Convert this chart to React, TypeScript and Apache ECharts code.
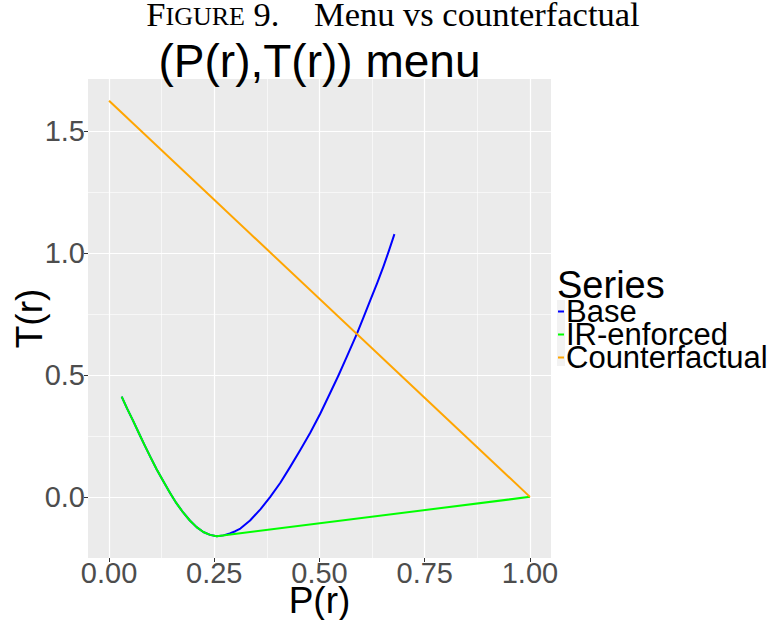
import React, { useEffect, useRef } from "react";
import * as echarts from "echarts";

const xMajor = [0, 0.25, 0.5, 0.75, 1.0];
const xMinor = [0.125, 0.375, 0.625, 0.875];
const yMajor = [0, 0.5, 1.0, 1.5];
const yMinor = [-0.25, 0.25, 0.75, 1.25];

const seriesNames = ["Base", "IR-enforced", "Counterfactual"];
const seriesColors = ["#0000FF", "#00FF00", "#FFA500"];

// shared descending branch (P, T)
const leftP = [0.030, 0.043, 0.057, 0.071, 0.085, 0.099, 0.113, 0.129, 0.145, 0.160, 0.176, 0.192, 0.208, 0.224, 0.240, 0.256];
const leftT = [0.411, 0.362, 0.313, 0.261, 0.210, 0.161, 0.113, 0.064, 0.016, -0.026, -0.064, -0.097, -0.124, -0.144, -0.156, -0.1615];

// Base rising branch
const baseP = [0.272, 0.287, 0.300, 0.312, 0.335, 0.360, 0.383, 0.407, 0.430, 0.454, 0.478, 0.502, 0.525, 0.545, 0.565, 0.589, 0.605, 0.621, 0.637, 0.652, 0.665, 0.678];
const baseT = [-0.158, -0.150, -0.141, -0.130, -0.097, -0.050, 0.000, 0.058, 0.122, 0.191, 0.263, 0.342, 0.425, 0.498, 0.575, 0.670, 0.738, 0.808, 0.877, 0.946, 1.010, 1.078];

// IR-enforced straight branch end
const irP = [1.0];
const irT = [0.0];

// Counterfactual line
const cfP = [0.0, 1.0];
const cfT = [1.625, 0.0];

const zip = (a: number[], b: number[]) => a.map((v, i) => [v, b[i]]);

const SANS = "'Liberation Sans', Arial, Helvetica, sans-serif";
const SERIF = "'Liberation Serif', 'Times New Roman', serif";

export default function App() {
  const ref = useRef<HTMLDivElement>(null);
  useEffect(() => {
    if (!ref.current) return;
    const chart = echarts.init(ref.current, undefined, { renderer: "svg" });
    const xMin = -0.05, xMax = 1.05;
    const yMin = -0.2508, yMax = 1.7143;
    const hiddenLine = { show: false, onZero: false };
    chart.setOption({
      animation: false,
      backgroundColor: "#FFFFFF",
      title: [
        {
          text: "{a|F}{b|IGURE}{a| 9.\u00A0\u00A0\u00A0\u00A0Menu vs counterfactual}",
          left: 393,
          top: 1,
          textAlign: "center",
          padding: 0,
          textStyle: {
            fontFamily: SERIF,
            fontWeight: "normal",
            color: "#000",
            rich: {
              a: { fontSize: 34.5, fontFamily: SERIF, color: "#000", lineHeight: 26 },
              b: { fontSize: 26, fontFamily: SERIF, color: "#000", lineHeight: 26, padding: [5, 0, 0, 0] },
            },
          },
        },
        {
          text: "(P(r),T(r)) menu",
          left: 319.5,
          top: 38,
          textAlign: "center",
          padding: 0,
          textStyle: { fontFamily: SANS, fontSize: 46, lineHeight: 46, fontWeight: "normal", color: "#000" },
        },
        {
          text: "Series",
          left: 557,
          top: 266,
          padding: 0,
          textStyle: { fontFamily: SANS, fontSize: 38, lineHeight: 38, fontWeight: "normal", color: "#000" },
        },
      ],
      graphic: [
        {
          type: "rect",
          left: 557,
          top: 300,
          shape: { width: 8, height: 66 },
          style: { fill: "#F2F2F2" },
          z: -1,
        },
      ],
      legend: {
        orient: "vertical",
        left: 558,
        top: 296,
        padding: 0,
        itemGap: -8,
        itemWidth: 6,
        itemHeight: 2,
        icon: "rect",
        selectedMode: false,
        data: seriesNames,
        textStyle: { fontFamily: SANS, fontSize: 31, color: "#000", padding: [0, 0, 0, -3] },
      },
      grid: {
        left: 88,
        right: 218,
        top: 79,
        bottom: 62,
        show: true,
        backgroundColor: "#EBEBEB",
        borderWidth: 0,
        containLabel: false,
        outerBoundsMode: "none",
      },
      xAxis: [
        {
          type: "value",
          min: xMin,
          max: xMax,
          axisLine: hiddenLine,
          name: "P(r)",
          nameLocation: "middle",
          nameGap: 24,
          nameMoveOverlap: false,
          nameTextStyle: { fontFamily: SANS, fontSize: 37, color: "#000" },
          axisTick: { show: true, length: 4, lineStyle: { color: "#333333", width: 1 }, customValues: xMajor },
          axisLabel: {
            show: true,
            customValues: xMajor,
            margin: 0,
            fontFamily: SANS,
            fontSize: 29,
            color: "#4D4D4D",
            formatter: (v: number) => v.toFixed(2),
          },
          splitLine: { show: true, lineStyle: { color: "#FFFFFF", width: 1.2 } },
        },
        {
          type: "value",
          min: xMin,
          max: xMax,
          axisLine: hiddenLine,
          axisTick: { show: false, customValues: xMinor },
          axisLabel: { show: false, customValues: xMinor },
          splitLine: { show: true, lineStyle: { color: "#FFFFFF", width: 0.6 } },
        },
      ],
      yAxis: [
        {
          type: "value",
          min: yMin,
          max: yMax,
          axisLine: hiddenLine,
          name: "T(r)",
          nameLocation: "middle",
          nameGap: 40,
          nameMoveOverlap: false,
          nameTextStyle: { fontFamily: SANS, fontSize: 37, color: "#000" },
          axisTick: { show: true, length: 4, lineStyle: { color: "#333333", width: 1 }, customValues: yMajor },
          axisLabel: {
            show: true,
            customValues: yMajor,
            margin: 3,
            fontFamily: SANS,
            fontSize: 29,
            color: "#4D4D4D",
            formatter: (v: number) => v.toFixed(1),
          },
          splitLine: { show: true, lineStyle: { color: "#FFFFFF", width: 1.2 } },
        },
        {
          type: "value",
          min: yMin,
          max: yMax,
          axisLine: hiddenLine,
          axisTick: { show: false, customValues: yMinor },
          axisLabel: { show: false, customValues: yMinor },
          splitLine: { show: true, lineStyle: { color: "#FFFFFF", width: 0.6 } },
        },
      ],
      series: [
        {
          name: seriesNames[0],
          type: "line",
          data: zip(leftP, leftT).concat(zip(baseP, baseT)),
          showSymbol: false,
          smooth: false,
          color: seriesColors[0],
          lineStyle: { width: 2, color: seriesColors[0], join: "round" },
        },
        {
          name: seriesNames[1],
          type: "line",
          data: zip(leftP, leftT).concat(zip(irP, irT)),
          showSymbol: false,
          smooth: false,
          color: seriesColors[1],
          lineStyle: { width: 2, color: seriesColors[1], join: "round" },
        },
        {
          name: seriesNames[2],
          type: "line",
          data: zip(cfP, cfT),
          showSymbol: false,
          color: seriesColors[2],
          lineStyle: { width: 2, color: seriesColors[2] },
        },
      ],
    });
    return () => chart.dispose();
  }, []);
  return (
    <div
      ref={ref}
      style={{ position: "fixed", left: 0, top: 0, width: 769, height: 620 }}
    />
  );
}
